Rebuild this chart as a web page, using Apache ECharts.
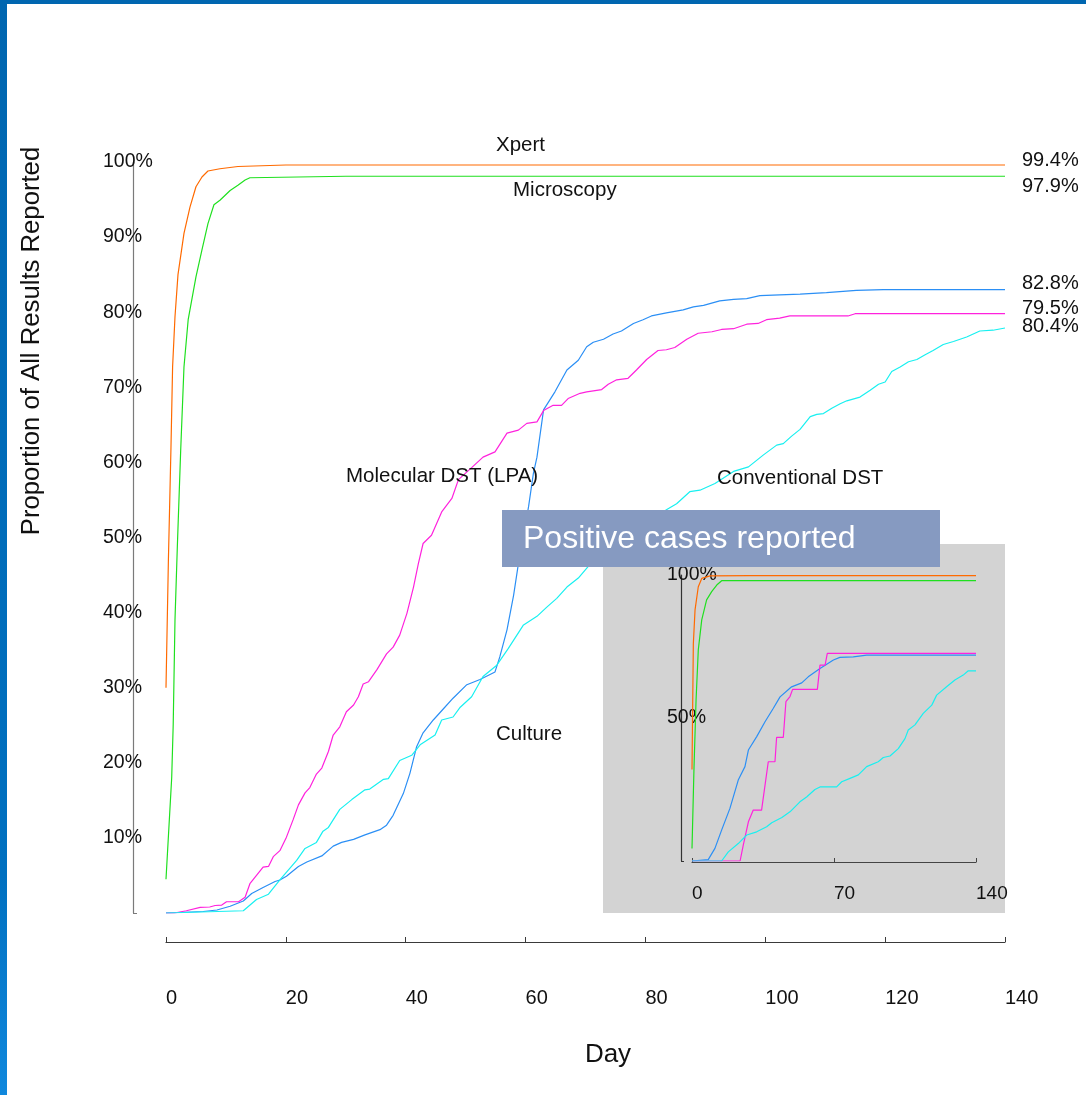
<!DOCTYPE html>
<html>
<head>
<meta charset="utf-8">
<script src="https://cdn.jsdelivr.net/npm/echarts@6/dist/echarts.min.js"></script>
<style>
html,body{margin:0;padding:0;background:#fff;}
#chart{width:1086px;height:1095px;}
</style>
</head>
<body>
<div id="chart"></div>
<script>
// ---------- DATA (day, % of all results reported) ----------
const seriesNames = ['Xpert', 'Microscopy', 'Culture', 'Molecular DST (LPA)', 'Conventional DST'];
const endLabels = ['99.4%', '97.9%', '82.8%', '79.5%', '80.4%'];
const xTicksMain = [0, 20, 40, 60, 80, 100, 120, 140];
const xTicksInset = [0, 70, 140];

const xpert = [[0,30],[0.4,47],[0.83,62],[1.1,72.7],[1.5,79.4],[2,85],[3,90.5],[4,94],[5,96.7],[6,98],[7,98.8],[9,99.1],[12,99.4],[20,99.6],[140,99.6]];
const microscopy = [[0,4.5],[0.95,18],[1.2,25],[1.5,39],[1.9,49],[2.45,61.6],[3,72.7],[3.7,79],[5,84.7],[6,88.3],[7,91.8],[8,94.3],[9,94.9],[10.7,96.2],[12,96.9],[13.2,97.6],[14,97.9],[30,98.1],[140,98.1]];
const culture = [[0,0],[6.2,0.2],[8.5,0.4],[10.7,0.9],[12.9,1.6],[14.3,2.6],[16.2,3.4],[18.2,4.2],[19,4.4],[20.1,4.9],[22.1,6.2],[23.5,6.8],[26,7.6],[27.9,8.9],[29.3,9.4],[31.3,9.8],[33.2,10.4],[35.7,11.1],[36.8,11.7],[37.9,13.0],[39.6,15.9],[40.7,18.6],[41.8,22.1],[42.9,24.0],[44.6,25.7],[46.3,27.2],[47.9,28.6],[50.2,30.4],[52.4,31.1],[54.9,32.1],[55.7,34.1],[56.9,37.7],[58.0,42.3],[58.8,46.5],[60.5,54.1],[61.3,58.5],[61.9,60.7],[63.0,67.0],[64.9,69.4],[66.9,72.3],[68.8,73.6],[70.2,75.4],[71.3,76.0],[73.0,76.4],[74.6,77.1],[76.0,77.5],[78.0,78.5],[79.6,79.0],[81.0,79.5],[83.5,79.9],[86.3,80.3],[88.0,80.7],[89.7,80.9],[92.4,81.5],[94.7,81.7],[96.9,81.8],[99.1,82.2],[102.4,82.3],[105.8,82.4],[110.2,82.6],[115.2,82.9],[119.7,83.0],[140,83.0]];
const lpa = [[0,0],[1.4,0],[3.4,0.3],[5.7,0.75],[7.3,0.8],[8.2,1.0],[9.3,1.05],[10.1,1.5],[12.1,1.5],[13.2,2.1],[14,3.9],[15.1,5.0],[16.2,6.1],[17.1,6.2],[17.9,7.5],[19,8.3],[20.1,10.1],[21.2,12.4],[22.1,14.4],[23.2,16.0],[24,16.7],[25.1,18.5],[26,19.3],[27.1,21.5],[27.9,23.7],[29,24.8],[30.1,26.8],[31.3,27.7],[32.1,28.8],[32.9,30.5],[33.8,30.8],[35.2,32.4],[36.8,34.5],[37.9,35.4],[39,37.0],[40.2,39.9],[41.3,43.4],[42.1,46.5],[42.9,49.2],[44.3,50.3],[46,53.4],[47.7,55.2],[48.8,57.7],[51,59.3],[52.9,60.7],[54.9,61.4],[56.9,63.9],[58.8,64.3],[60.2,65.2],[61.9,65.4],[63,66.9],[64.6,67.6],[66,67.6],[67.1,68.5],[69.1,69.2],[70.2,69.4],[72.7,69.7],[73.8,70.4],[75.2,71.0],[77.1,71.2],[78.5,72.3],[80.2,73.7],[82.1,74.9],[83.5,75.0],[84.9,75.3],[86.9,76.4],[88.8,77.2],[91.1,77.4],[92.7,77.7],[94.7,77.8],[96.9,78.4],[98.8,78.5],[100.2,79.0],[102.4,79.2],[104.1,79.5],[113.8,79.5],[115,79.8],[140,79.8]];
const conventional = [[0,0],[12.9,0.3],[15.1,1.8],[17.1,2.5],[19,4.4],[21.8,7.0],[23.2,8.6],[25.1,9.4],[26.2,10.9],[27.1,11.4],[29,13.8],[31,15.1],[33.2,16.4],[34,16.5],[36.3,17.8],[37.1,17.9],[39,20.3],[41,21.0],[42.4,22.4],[44.9,23.7],[46,25.7],[47.9,26.1],[49.1,27.4],[51,28.8],[52.9,31.5],[55.2,33.0],[57.1,35.2],[59.6,38.3],[61.9,39.5],[63.5,40.7],[65.2,41.9],[66.9,43.4],[68.8,44.6],[70.5,46.2],[83.5,53.7],[85.2,54.5],[87.4,56.1],[89.1,56.3],[91.6,57.2],[94.7,58.8],[97.2,59.4],[99.7,61.0],[101.9,62.3],[103,62.5],[104.4,63.5],[105.8,64.4],[107.5,66.1],[108.6,66.4],[109.7,66.5],[111.1,67.2],[112.5,67.8],[113.6,68.2],[115.8,68.7],[117.5,69.6],[118.9,70.4],[120,70.7],[121.1,72.1],[122.5,72.7],[123.9,73.4],[125.3,73.7],[126.6,74.3],[128,74.9],[129.7,75.7],[131.4,76.1],[133.6,76.7],[135.8,77.5],[138,77.6],[140,77.9]];

// Inset: positive cases reported
const xpertPos = [[0,32],[0.66,76],[1.5,87.8],[3.1,95.9],[4.8,98.8],[8.9,99.7],[28.5,99.8],[140,99.8]];
const microscopyPos = [[0,4.4],[1.0,33],[2.0,56.3],[3.1,73.8],[4.8,84.3],[7.2,91.3],[9.7,94.2],[12.2,96.5],[14.6,98.0],[140,98.0]];
const culturePos = [[0,0],[8.0,0.5],[11.3,4.4],[14.6,10.8],[18.7,18.4],[22.8,28.3],[26.1,33],[27.8,38.8],[31.9,43.5],[36.0,48.7],[40.1,53.4],[43.4,57.4],[49.1,60.9],[54.1,62.3],[57.3,64.4],[63.1,67.3],[69.7,70.3],[72.9,71.2],[79.5,71.4],[86.1,72.0],[140,72.0]];
const lpaPos = [[0,0],[23.7,0],[25.3,5.6],[27.8,13.7],[28.5,13.7],[30.2,17.8],[34.3,17.8],[37.6,34.7],[40.9,34.7],[41.7,43.2],[45.0,43.2],[46.3,55.7],[48.3,57.5],[49.6,60],[61.8,60],[63.1,68.5],[65.6,68.5],[66.7,72.6],[140,72.6]];
const conventionalPos = [[0,0],[14.6,0],[17.9,3.2],[22.8,6.1],[27.0,9.1],[31.9,10.2],[36.8,12.0],[39.3,13.4],[44.3,15.2],[48.3,17.2],[53.2,20.7],[56.5,22.4],[60.6,25.0],[63.1,25.9],[71.3,25.9],[73.8,27.7],[77.9,28.9],[82.0,30.1],[86.1,33],[91.8,34.7],[94.3,36.2],[97.6,36.7],[101.7,39.3],[105.0,42.8],[106.6,45.8],[109.9,47.6],[114.0,51.6],[118.2,54.5],[120.6,58.0],[125.5,60.9],[129.6,63.3],[133.7,65.0],[136.2,66.5],[140,66.5]];

// ---------- STYLE ----------
const FONT = "'Liberation Sans', Arial, sans-serif";
const colors = ['#ff6a00', '#1fe01f', '#2b8ff5', '#ff22dd', '#18f0f0'];
const mainData = [xpert, microscopy, culture, lpa, conventional];
const insetData = [xpertPos, microscopyPos, culturePos, lpaPos, conventionalPos];

const chart = echarts.init(document.getElementById('chart'), null, {renderer: 'canvas'});

const pctFmt = v => (v === 0 ? '' : v + '%');

const series = [];
mainData.forEach((d, i) => series.push({
  name: seriesNames[i], type: 'line', data: d, xAxisIndex: 0, yAxisIndex: 0,
  showSymbol: false, z: 2, lineStyle: {color: colors[i], width: 1.2}, itemStyle: {color: colors[i]}
}));
insetData.forEach((d, i) => series.push({
  name: seriesNames[i] + ' (positive)', type: 'line', data: d, xAxisIndex: 1, yAxisIndex: 1,
  showSymbol: false, z: 8, lineStyle: {color: colors[i], width: 1.2}, itemStyle: {color: colors[i]}
}));

const txt = (x, y, s, size, opts) => Object.assign({
  type: 'text', x: x, y: y, z: 12,
  style: Object.assign({text: s, font: size + 'px ' + FONT, fill: '#111', textAlign: 'left', textVerticalAlign: 'middle'}, (opts && opts.style) || {})
}, opts ? {rotation: opts.rotation || 0} : {});

const option = {
  animation: false,
  backgroundColor: '#ffffff',
  grid: [
    {left: 166, right: 81, top: 162, bottom: 182, outerBoundsMode: 'none', containLabel: false},
    {left: 692, right: 110, top: 575, bottom: 234, outerBoundsMode: 'none', containLabel: false}
  ],
  xAxis: [
    {type: 'value', gridIndex: 0, min: 0, max: 140, interval: 20, offset: 29,
      axisLine: {show: true, onZero: false, lineStyle: {color: '#3a3a3a', width: 1.2}},
      axisTick: {show: true, inside: true, length: 5, lineStyle: {color: '#3a3a3a'}},
      axisLabel: {show: true, margin: 46, align: 'left', fontSize: 20, color: '#111', fontFamily: FONT},
      splitLine: {show: false}},
    {type: 'value', gridIndex: 1, min: 0, max: 140, interval: 70, offset: 1, z: 7,
      axisLine: {show: true, onZero: false, lineStyle: {color: '#444', width: 1.2}},
      axisTick: {show: true, inside: true, length: 4, lineStyle: {color: '#444'}},
      axisLabel: {show: true, margin: 22, align: 'left', fontSize: 19, color: '#111', fontFamily: FONT},
      splitLine: {show: false}}
  ],
  yAxis: [
    {type: 'value', gridIndex: 0, min: 0, max: 100, interval: 10, offset: 33,
      axisLine: {show: true, onZero: false, lineStyle: {color: '#7a7a7a', width: 1.2}},
      axisTick: {show: true, inside: true, length: 4, customValues: [0], lineStyle: {color: '#7a7a7a'}},
      axisLabel: {show: true, margin: 30, align: 'left', fontSize: 19.5, color: '#111', fontFamily: FONT, formatter: pctFmt},
      splitLine: {show: false}},
    {type: 'value', gridIndex: 1, min: 0, max: 100, interval: 50, offset: 11, z: 7,
      axisLine: {show: true, onZero: false, lineStyle: {color: '#333', width: 1.2}},
      axisTick: {show: true, inside: true, length: 3, customValues: [0], lineStyle: {color: '#333'}},
      axisLabel: {show: true, margin: 14, align: 'left', fontSize: 19.5, color: '#111', fontFamily: FONT, formatter: pctFmt},
      splitLine: {show: false}}
  ],
  series: series,
  graphic: [
    // frame
    {type: 'rect', shape: {x: 0, y: 0, width: 1086, height: 4}, style: {fill: '#0066b0'}, z: 20},
    {type: 'rect', shape: {x: 0, y: 0, width: 7, height: 1095}, z: 20,
      style: {fill: new echarts.graphic.LinearGradient(0, 0, 0, 1, [{offset: 0, color: '#0066b0'}, {offset: 0.8, color: '#0070c0'}, {offset: 1, color: '#1088dd'}])}},
    // inset background
    {type: 'rect', shape: {x: 603, y: 544, width: 402, height: 369}, style: {fill: '#d3d3d3'}, z: 5},
    // inset title box
    {type: 'rect', shape: {x: 502, y: 510, width: 438, height: 57}, style: {fill: '#869ac1'}, z: 11},
    txt(523, 539, 'Positive cases reported', 32, {style: {fill: '#ffffff'}}),
    // series labels
    txt(496, 145, 'Xpert', 20.5),
    txt(513, 190, 'Microscopy', 20.5),
    txt(346, 476, 'Molecular DST (LPA)', 20.5),
    txt(717, 478, 'Conventional DST', 20.5),
    txt(496, 734, 'Culture', 20.5),
    // end values
    txt(1022, 160, endLabels[0], 20),
    txt(1022, 186, endLabels[1], 20),
    txt(1022, 283, endLabels[2], 20),
    txt(1022, 308, endLabels[3], 20),
    txt(1022, 326, endLabels[4], 20),
    // axis titles
    txt(608, 1055, 'Day', 26, {style: {textAlign: 'center'}}),
    {type: 'text', x: 32, y: 341, rotation: Math.PI / 2, z: 12,
      style: {text: 'Proportion of All Results Reported', font: '25.7px ' + FONT, fill: '#111', textAlign: 'center', textVerticalAlign: 'middle'}}
  ]
};
chart.setOption(option);
</script>
</body>
</html>
